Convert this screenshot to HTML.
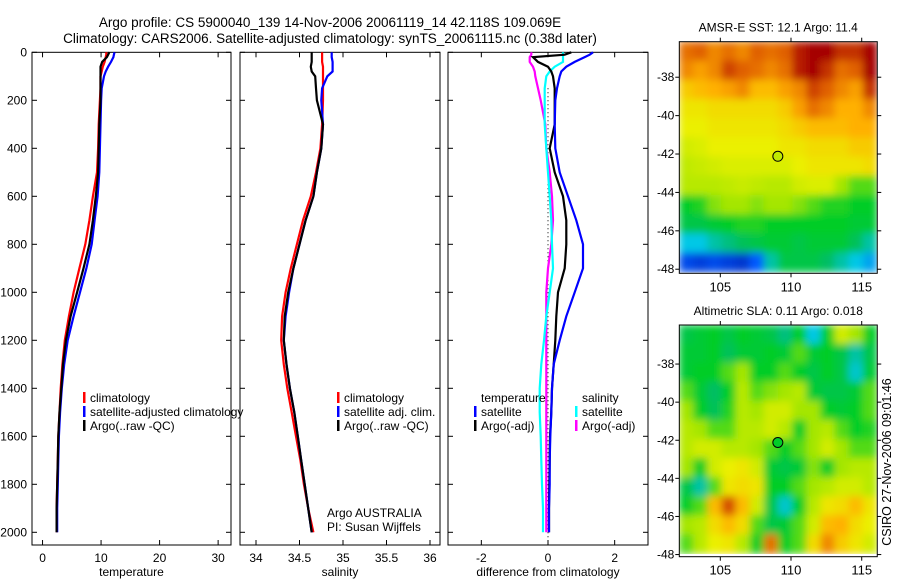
<!DOCTYPE html>
<html><head><meta charset="utf-8"><style>
html,body{margin:0;padding:0;background:#fff;}
svg{display:block;font-family:"Liberation Sans",sans-serif;}
</style></head><body>
<svg id="chart" width="900" height="580" viewBox="0 0 900 580" xmlns="http://www.w3.org/2000/svg">
<defs>
<filter id="smooth" x="0" y="0" width="1" height="1"><feGaussianBlur stdDeviation="4" edgeMode="duplicate"/></filter>
<clipPath id="clip1"><rect x="679.3" y="41.7" width="198" height="231.6"/></clipPath>
<clipPath id="clip2"><rect x="679.3" y="325" width="198" height="231.7"/></clipPath>
</defs>
<text x="330" y="27" font-size="13.5" text-anchor="middle">Argo profile: CS 5900040_139 14-Nov-2006 20061119_14 42.118S 109.069E</text>
<text x="330" y="43" font-size="13.5" text-anchor="middle">Climatology: CARS2006. Satellite-adjusted climatology: synTS_20061115.nc (0.38d later)</text>
<g id="g"></g>
</svg>
<script>
const depths=[0,10,20,40,60,80,100,150,200,300,400,500,600,700,800,900,1000,1100,1200,1300,1400,1500,1600,1700,1800,1900,2000];
const tempClim=[10.9,10.9,10.8,10.6,10.3,10.1,9.9,9.9,9.8,9.6,9.5,9.3,8.6,8.0,7.3,6.3,5.3,4.5,3.8,3.4,3.1,2.9,2.7,2.6,2.5,2.4,2.4];
const tempSat=[12.3,12.2,12.1,11.7,11.2,10.8,10.5,10.1,10.0,9.9,9.8,9.7,9.4,8.9,8.4,7.5,6.4,5.3,4.3,3.7,3.3,3.0,2.8,2.7,2.6,2.5,2.5];
const tempArgo=[11.4,11.2,11.0,10.2,9.9,9.9,9.9,9.9,9.9,9.7,9.6,9.5,9.1,8.6,8.0,7.0,5.9,4.8,4.0,3.5,3.2,2.9,2.7,2.6,2.5,2.4,2.4];
const salClim=[34.76,34.76,34.76,34.76,34.77,34.77,34.77,34.77,34.77,34.76,34.74,34.69,34.63,34.54,34.47,34.40,34.34,34.30,34.29,34.32,34.36,34.41,34.46,34.51,34.55,34.60,34.66];
const salSat=[34.87,34.87,34.87,34.88,34.88,34.88,34.82,34.76,34.75,34.77,34.75,34.70,34.66,34.57,34.50,34.43,34.38,34.34,34.32,34.35,34.39,34.44,34.48,34.52,34.56,34.60,34.64];
const salArgo=[34.64,34.64,34.64,34.64,34.63,34.64,34.68,34.69,34.70,34.77,34.75,34.70,34.66,34.57,34.50,34.43,34.37,34.33,34.32,34.35,34.39,34.44,34.48,34.52,34.56,34.60,34.64];
const diffTempSat=[1.35,1.25,1.1,0.8,0.55,0.4,0.35,0.27,0.22,0.2,0.22,0.35,0.6,0.85,1.05,1.05,0.8,0.55,0.35,0.17,0.12,0.1,0.07,0.05,0.05,0.03,0.03];
const diffTempArgo=[0.7,0.5,-0.45,-0.3,0.0,0.1,0.15,0.2,0.2,0.2,0.05,0.2,0.45,0.55,0.55,0.5,0.3,0.25,0.22,0.17,0.12,0.1,0.06,0.05,0.04,0.03,0.03];
const diffSalSat=[0.45,0.45,0.45,0.45,0.2,0.05,-0.05,-0.1,-0.1,-0.1,-0.05,0.0,0.05,0.1,0.12,0.15,0.05,-0.05,-0.12,-0.2,-0.25,-0.25,-0.22,-0.2,-0.18,-0.15,-0.15];
const diffSalArgo=[-0.5,-0.5,-0.55,-0.55,-0.45,-0.4,-0.38,-0.3,-0.22,-0.08,-0.05,0.05,0.12,0.15,0.1,0.0,-0.05,-0.05,-0.05,-0.05,-0.05,-0.05,-0.05,-0.05,-0.05,-0.05,-0.05];
const depthTicks=[0,200,400,600,800,1000,1200,1400,1600,1800,2000];
const tempTicks=[0,10,20,30];
const salTicks=[34,34.5,35,35.5,36];
const salTickLabels=["34","34.5","35","35.5","36"];
const diffTicks=[-2,0,2];
const mapLonTicks=[105,110,115];
const mapLatTicks=[-38,-40,-42,-44,-46,-48];
const floatLon=109.069, floatLat=-42.118;
const sstGrid=[
[0.88,0.9,0.85,0.88,0.85,0.9,0.88,0.9,0.97,1,1,0.95,0.95,1],
[0.85,0.82,0.85,0.93,0.9,0.88,0.85,0.88,0.97,1,0.95,0.88,0.9,1],
[0.75,0.78,0.8,0.82,0.85,0.78,0.78,0.82,0.85,0.93,0.9,0.85,0.82,0.95],
[0.7,0.7,0.72,0.72,0.72,0.72,0.72,0.75,0.82,0.88,0.85,0.8,0.8,0.85],
[0.68,0.68,0.7,0.7,0.7,0.7,0.7,0.72,0.75,0.78,0.78,0.78,0.8,0.8],
[0.65,0.66,0.68,0.68,0.68,0.68,0.68,0.7,0.7,0.72,0.72,0.72,0.75,0.75],
[0.63,0.64,0.65,0.66,0.66,0.66,0.66,0.66,0.68,0.7,0.7,0.7,0.7,0.72],
[0.62,0.62,0.62,0.63,0.64,0.63,0.62,0.62,0.65,0.66,0.66,0.6,0.55,0.55],
[0.5,0.52,0.58,0.6,0.6,0.58,0.6,0.6,0.58,0.55,0.52,0.52,0.5,0.5],
[0.45,0.45,0.48,0.5,0.52,0.52,0.5,0.5,0.5,0.5,0.5,0.5,0.48,0.48],
[0.3,0.3,0.35,0.38,0.42,0.45,0.48,0.48,0.45,0.48,0.48,0.48,0.42,0.35],
[0.12,0.1,0.12,0.1,0.08,0.15,0.35,0.45,0.45,0.45,0.4,0.35,0.3,0.25]];
const slaGrid=[
[0.45,0.48,0.5,0.45,0.5,0.48,0.45,0.38,0.5,0.3,0.5,0.65,0.6,0.5],
[0.48,0.48,0.5,0.42,0.48,0.48,0.5,0.48,0.55,0.48,0.5,0.45,0.35,0.45],
[0.48,0.5,0.5,0.55,0.6,0.5,0.5,0.55,0.5,0.45,0.5,0.45,0.32,0.48],
[0.55,0.48,0.4,0.5,0.62,0.55,0.58,0.6,0.62,0.48,0.45,0.45,0.48,0.55],
[0.6,0.5,0.42,0.52,0.62,0.6,0.65,0.65,0.6,0.6,0.5,0.48,0.5,0.55],
[0.62,0.6,0.55,0.55,0.62,0.62,0.65,0.62,0.5,0.6,0.62,0.55,0.5,0.52],
[0.62,0.65,0.65,0.62,0.62,0.6,0.55,0.5,0.55,0.6,0.65,0.6,0.55,0.55],
[0.6,0.5,0.65,0.68,0.7,0.65,0.48,0.45,0.48,0.58,0.5,0.6,0.62,0.62],
[0.45,0.35,0.55,0.7,0.72,0.7,0.5,0.5,0.55,0.6,0.62,0.65,0.65,0.62],
[0.5,0.55,0.78,0.92,0.78,0.65,0.45,0.32,0.5,0.62,0.7,0.72,0.78,0.7],
[0.6,0.62,0.72,0.78,0.72,0.55,0.45,0.48,0.55,0.65,0.78,0.8,0.72,0.68],
[0.55,0.62,0.68,0.7,0.62,0.5,0.88,0.5,0.55,0.72,0.85,0.75,0.7,0.65]];

const NS="http://www.w3.org/2000/svg";
const G=document.getElementById('g');
function mk(tag,attrs,parent){const e=document.createElementNS(NS,tag);for(const k in attrs)e.setAttribute(k,attrs[k]);(parent||G).appendChild(e);return e;}
function txt(s,x,y,attrs,parent){const e=mk('text',Object.assign({x:x,y:y,'font-size':12},attrs||{}),parent);e.textContent=s;return e;}

const PT=52.3, PB=545, yD=d=>PT+0.24*d;
const panels=[
 {name:'temperature',x0:32,x1:231,v0:-1.8,v1:32.2,ticks:tempTicks,labels:tempTicks.map(String),xl:'temperature'},
 {name:'salinity',x0:240,x1:440,v0:33.816,v1:36.115,ticks:salTicks,labels:salTickLabels,xl:'salinity'},
 {name:'difference',x0:448,x1:648,v0:-3.0,v1:3.0,ticks:diffTicks,labels:diffTicks.map(String),xl:'difference from climatology'}
];
function xs(p,v){return p.x0+(v-p.v0)/(p.v1-p.v0)*(p.x1-p.x0);}
panels.forEach((p,i)=>{
  const g=mk('g',{});
  
  
  const r=mk('rect',{x:p.x0,y:PT,width:p.x1-p.x0,height:PB-PT,fill:'none',stroke:'#000','stroke-width':1},g);
  
  
  depthTicks.forEach(d=>{
    const y=yD(d);
    mk('line',{x1:p.x0,x2:p.x0+5,y1:y,y2:y,stroke:'#000'},g);
    mk('line',{x1:p.x1-5,x2:p.x1,y1:y,y2:y,stroke:'#000'},g);
    if(i===0){const t=txt(String(d),27,y+4,{'text-anchor':'end'},g);
      
      }
  });
  p.ticks.forEach((v,j)=>{
    const x=xs(p,v);
    mk('line',{x1:x,x2:x,y1:PB,y2:PB-5,stroke:'#000'},g);
    mk('line',{x1:x,x2:x,y1:PT,y2:PT+5,stroke:'#000'},g);
    const t=txt(p.labels[j],x,PB+17,{'text-anchor':'middle'},g);
    
    
  });
  const xl=txt(p.xl,(p.x0+p.x1)/2,PB+31,{'text-anchor':'middle'},g);
  
  
});
function profile(p,vals,color,name){
  let d='';
  vals.forEach((v,k)=>{d+=(k?'L':'M')+xs(p,v).toFixed(1)+' '+yD(depths[k]).toFixed(1)+' ';});
  const e=mk('path',{d:d,fill:'none',stroke:color,'stroke-width':2.2});
  
  
}
const z=mk('line',{x1:xs(panels[2],0),x2:xs(panels[2],0),y1:yD(150),y2:PB-2,stroke:'#000','stroke-dasharray':'1,3','stroke-width':1});


profile(panels[0],tempClim,'#ff0000','temp-climatology-line');
profile(panels[0],tempSat,'#0000ff','temp-satellite-line');
profile(panels[0],tempArgo,'#000000','temp-argo-line');
profile(panels[1],salClim,'#ff0000','sal-climatology-line');
profile(panels[1],salSat,'#0000ff','sal-satellite-line');
profile(panels[1],salArgo,'#000000','sal-argo-line');
profile(panels[2],diffSalArgo,'#ff00ff','diff-sal-argo-line');
profile(panels[2],diffSalSat,'#00ffff','diff-sal-satellite-line');
profile(panels[2],diffTempArgo,'#000000','diff-temp-argo-line');
profile(panels[2],diffTempSat,'#0000ff','diff-temp-satellite-line');

function legend(x,y,color,label,name){
  const g=mk('g',{});
  
  
  if(color) mk('rect',{x:x-7,y:y-6,width:2.5,height:11,fill:color},g);
  txt(label,x,y+4,{},g);
}
legend(90,398,'#ff0000','climatology','legend-temp-climatology');
legend(90,412,'#0000ff','satellite-adjusted climatology','legend-temp-satellite');
legend(90,426,'#000000','Argo(..raw -QC)','legend-temp-argo');
legend(344,398,'#ff0000','climatology','legend-sal-climatology');
legend(344,412,'#0000ff','satellite adj. clim.','legend-sal-satellite');
legend(344,426,'#000000','Argo(..raw -QC)','legend-sal-argo');
legend(481,398,null,'temperature','legend-temperature-header');
legend(481,412,'#0000ff','satellite','legend-diff-temp-satellite');
legend(481,426,'#000000','Argo(-adj)','legend-diff-temp-argo');
legend(582,398,null,'salinity','legend-salinity-header');
legend(582,412,'#00ffff','satellite','legend-diff-sal-satellite');
legend(582,426,'#ff00ff','Argo(-adj)','legend-diff-sal-argo');
const a1=txt('Argo AUSTRALIA',327,517,{});


const a2=txt('PI: Susan Wijffels',327,531,{});



const stops=[[0,[0,16,150]],[0.15,[0,90,255]],[0.3,[0,200,230]],[0.4,[0,190,100]],[0.5,[0,205,40]],[0.6,[165,230,0]],[0.68,[235,240,0]],[0.8,[255,176,0]],[0.9,[224,96,0]],[1,[165,0,0]]];
function cmap(v){v=Math.max(0,Math.min(1,v));for(let i=1;i<stops.length;i++){if(v<=stops[i][0]){const a=stops[i-1],b=stops[i],t=(v-a[0])/(b[0]-a[0]);const c=a[1].map((q,k)=>Math.round(q+(b[1][k]-q)*t));return 'rgb('+c.join(',')+')';}}return 'rgb(165,0,0)';}

function map(cfg){
  const g=mk('g',{});
  
  
  const lx=lon=>cfg.x0+(lon-cfg.lon0)*cfg.sx;
  const ly=lat=>cfg.y0+(cfg.lat0-lat)*cfg.sy;
  const cg=mk('g',{'clip-path':'url(#'+cfg.clip+')'},g);
  const hg=mk('g',{filter:'url(#smooth)'},cg);
  cfg.grid.forEach((row,r)=>row.forEach((v,c)=>{
    const x=lx(cfg.lon0+c),y=ly(cfg.lat0-r);
    const e=mk('rect',{x:x-0.3,y:y-0.3,width:cfg.sx+0.6,height:cfg.sy+0.6,fill:cmap(v)},hg);
    
    
  }));
  const x1=lx(cfg.lon0+14);
  const fr=mk('rect',{x:cfg.x0,y:cfg.y0,width:x1-cfg.x0,height:cfg.h,fill:'none',stroke:'#000'},g);
  
  
  mapLonTicks.forEach(lon=>{
    const x=lx(lon);
    mk('line',{x1:x,x2:x,y1:cfg.y0,y2:cfg.y0-4,stroke:'#000'},g);
    mk('line',{x1:x,x2:x,y1:cfg.y0+cfg.h,y2:cfg.y0+cfg.h+4,stroke:'#000'},g);
    const t=txt(String(lon),x,cfg.y0+cfg.h+18,{'text-anchor':'middle','font-size':13},g);
    
    
  });
  mapLatTicks.forEach(lat=>{
    const y=ly(lat);
    mk('line',{x1:cfg.x0,x2:cfg.x0-4,y1:y,y2:y,stroke:'#000'},g);
    mk('line',{x1:x1,x2:x1+4,y1:y,y2:y,stroke:'#000'},g);
    const t=txt(String(lat),cfg.x0-5,y+4,{'text-anchor':'end'},g);
    
    
  });
  const tt=txt(cfg.title,(cfg.x0+x1)/2,cfg.y0-10,{'text-anchor':'middle'},g);
  
  
  const m=mk('circle',{cx:lx(floatLon),cy:ly(floatLat),r:5,fill:cmap(cfg.markerVal),stroke:'#000','stroke-width':1},g);
  
  
}
map({name:'sst-map',grid:sstGrid,x0:679.3,y0:41.7,h:231.6,lon0:102.1,lat0:-36.15,sx:14.14,sy:19.2,clip:'clip1',title:'AMSR-E SST: 12.1 Argo: 11.4',markerVal:0.63});
map({name:'sla-map',grid:slaGrid,x0:679.3,y0:325,h:231.7,lon0:102.1,lat0:-35.95,sx:14.14,sy:19.05,clip:'clip2',title:'Altimetric SLA: 0.11 Argo: 0.018',markerVal:0.5});

const cs=txt('CSIRO 27-Nov-2006 09:01:46',0,0,{'text-anchor':'middle','font-size':12.5,transform:'translate(891,462) rotate(-90)'});


</script>
</body></html>
